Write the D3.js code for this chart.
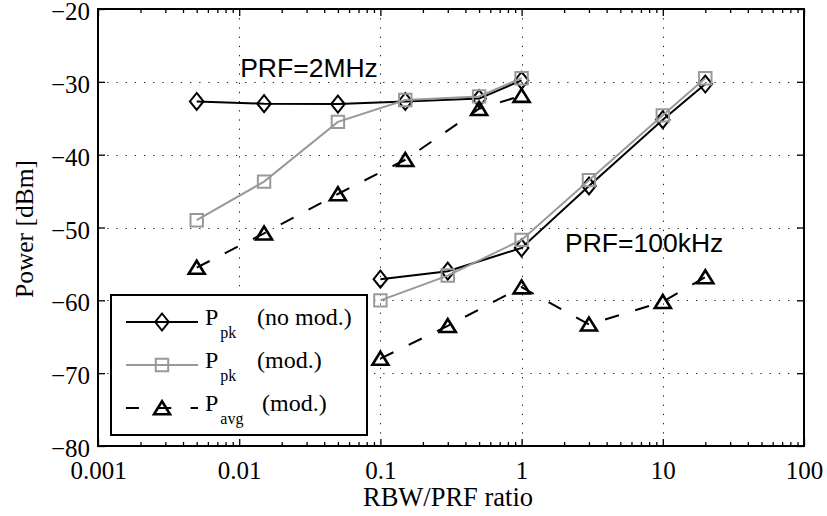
<!DOCTYPE html>
<html>
<head>
<meta charset="utf-8">
<script src="https://cdn.jsdelivr.net/npm/d3@7"></script>
<style>
  html, body { margin: 0; padding: 0; background: #fff; }
  svg { display: block; }
  .serif { font-family: "Liberation Serif", "Times New Roman", Times, serif; }
  .sans { font-family: "Liberation Sans", Arial, Helvetica, sans-serif; }
</style>
</head>
<body>
<svg id="chart" width="827" height="516"></svg>
<script>
// RBW/PRF ratios and measured powers, PRF = 2 MHz
const ratio2M      = [0.005, 0.015, 0.05, 0.15, 0.5, 1];
const pkNoMod2M    = [-32.7, -33.0, -33.05, -32.7, -32.3, -29.8];
const pkMod2M      = [-49.0, -43.7, -35.5, -32.5, -32.0, -29.5];
const avgMod2M     = [-55.5, -50.8, -45.4, -40.7, -33.7, -31.9];

// RBW/PRF ratios and measured powers, PRF = 100 kHz
const ratio100k    = [0.1, 0.3, 1, 3, 10, 20];
const pkNoMod100k  = [-57.1, -56.0, -52.8, -44.3, -35.2, -30.3];
const pkMod100k    = [-60.0, -56.6, -51.7, -43.5, -34.6, -29.5];
const avgMod100k   = [-68.0, -63.5, -58.2, -63.3, -60.2, -56.8];

// Axis ticks
const xTickValues = [0.001, 0.01, 0.1, 1, 10, 100];
const xTickLabels = ["0.001", "0.01", "0.1", "1", "10", "100"];
const yTickValues = [-80, -70, -60, -50, -40, -30, -20];

const seriesNames = ["no mod.", "mod.", "mod."];
const seriesSubs = ["pk", "pk", "avg"];

const svg = d3.select("#chart");
const L = 98, R = 804, T = 9, B = 446;

const x = d3.scaleLog().domain([0.001, 100]).range([L, R]);
const y = d3.scaleLinear().domain([-80, -20]).range([B, T]);

// minor ticks 2..9 in each decade
const minorTicks = [];
for (let e = -3; e < 2; e++) {
  for (let k = 2; k <= 9; k++) minorTicks.push(k * Math.pow(10, e));
}

// dotted grid
const grid = svg.append("g").attr("stroke", "#222").attr("stroke-width", 1)
  .attr("stroke-dasharray", "1.3,7.9");
grid.selectAll("line.gx").data(xTickValues.slice(1, -1)).join("line")
  .attr("x1", d => Math.round(x(d)) + 0.5).attr("x2", d => Math.round(x(d)) + 0.5)
  .attr("y1", T).attr("y2", B);
grid.selectAll("line.gy").data(yTickValues.slice(1, -1)).join("line")
  .attr("x1", L).attr("x2", R)
  .attr("y1", d => Math.round(y(d)) + 0.5).attr("y2", d => Math.round(y(d)) + 0.5);

// axes (ticks pointing inward)
function styleAxis(g) {
  g.select(".domain").remove();
  g.selectAll(".tick line").attr("stroke", "#000").attr("stroke-width", 1.3);
}
const labelIdx = v => xTickValues.indexOf(v);

const xb = svg.append("g").attr("transform", `translate(0,${B})`)
  .call(d3.axisBottom(x).tickValues(xTickValues).tickSize(-7).tickPadding(0)
    .tickFormat(d => xTickLabels[labelIdx(d)]));
styleAxis(xb);
xb.selectAll(".tick text").attr("class", "serif").attr("font-size", 25)
  .attr("fill", "#000").attr("y", 33).attr("dy", 0);

const xbm = svg.append("g").attr("transform", `translate(0,${B})`)
  .call(d3.axisBottom(x).tickValues(minorTicks).tickSize(-4).tickFormat(""));
styleAxis(xbm);

const xt = svg.append("g").attr("transform", `translate(0,${T})`)
  .call(d3.axisTop(x).tickValues(xTickValues).tickSize(-7).tickFormat(""));
styleAxis(xt);
const xtm = svg.append("g").attr("transform", `translate(0,${T})`)
  .call(d3.axisTop(x).tickValues(minorTicks).tickSize(-4).tickFormat(""));
styleAxis(xtm);

const yl = svg.append("g").attr("transform", `translate(${L},0)`)
  .call(d3.axisLeft(y).tickValues(yTickValues).tickSize(-7).tickPadding(8)
    .tickFormat(d3.format("d")));
styleAxis(yl);
yl.selectAll(".tick text").attr("class", "serif").attr("font-size", 25)
  .attr("fill", "#000").attr("dy", "0.42em");

const yr = svg.append("g").attr("transform", `translate(${R},0)`)
  .call(d3.axisRight(y).tickValues(yTickValues).tickSize(-7).tickFormat(""));
styleAxis(yr);

// frame
svg.append("rect").attr("x", L).attr("y", T).attr("width", R - L).attr("height", B - T)
  .attr("fill", "none").attr("stroke", "#000").attr("stroke-width", 2);

// axis titles
svg.append("text").attr("class", "serif").attr("font-size", 26.5)
  .attr("text-anchor", "middle").attr("x", (L + R) / 2 - 3).attr("y", 506)
  .text("RBW/PRF ratio");
svg.append("text").attr("class", "serif").attr("font-size", 25.5)
  .attr("text-anchor", "middle")
  .attr("transform", `translate(33,229) rotate(-90)`)
  .text("Power [dBm]");

// marker shapes
const markers = {
  diamond: "M0,-8.5L6.8,0L0,8.5L-6.8,0Z",
  square: "M-6.2,-6.2H6.2V6.2H-6.2Z",
  triangle: "M0,-6.8L8,6.2L-8,6.2Z"
};

const series = [
  { segs: [[ratio2M, pkNoMod2M], [ratio100k, pkNoMod100k]], color: "#000", dash: null, marker: "diamond", mw: 2 },
  { segs: [[ratio2M, pkMod2M], [ratio100k, pkMod100k]], color: "#999", dash: null, marker: "square", mw: 2 },
  { segs: [[ratio2M, avgMod2M], [ratio100k, avgMod100k]], color: "#000", dash: "14.5,17", marker: "triangle", mw: 2.6 }
];

const line = d3.line().x(d => x(d[0])).y(d => y(d[1]));

series.forEach(s => {
  const g = svg.append("g");
  s.segs.forEach(([xs, ys]) => {
    const pts = xs.map((v, i) => [v, ys[i]]);
    g.append("path").attr("d", line(pts)).attr("fill", "none")
      .attr("stroke", s.color).attr("stroke-width", 2)
      .attr("stroke-dasharray", s.dash);
    g.selectAll(null).data(pts).join("path")
      .attr("d", markers[s.marker])
      .attr("transform", d => `translate(${x(d[0])},${y(d[1])})`)
      .attr("fill", "none").attr("stroke", s.color).attr("stroke-width", s.mw)
      .attr("stroke-linejoin", "miter");
  });
});

// annotations
svg.append("text").attr("class", "sans").attr("font-size", 26.5)
  .attr("x", x(0.01) + 1).attr("y", 77).text("PRF=2MHz");
svg.append("text").attr("class", "sans").attr("font-size", 26.5)
  .attr("x", 565).attr("y", 252).text("PRF=100kHz");

// legend
const lg = svg.append("g");
lg.append("rect").attr("x", 111).attr("y", 295).attr("width", 256).attr("height", 140)
  .attr("fill", "#fff").attr("stroke", "#000").attr("stroke-width", 2);
const rowY = [322, 365, 408];
series.forEach((s, i) => {
  const ry = rowY[i];
  lg.append("line").attr("x1", 126).attr("x2", 198).attr("y1", ry).attr("y2", ry)
    .attr("stroke", s.color).attr("stroke-width", 2)
    .attr("stroke-dasharray", s.dash ? "13,19.3" : null);
  lg.append("path").attr("d", markers[s.marker])
    .attr("transform", `translate(162,${ry})`)
    .attr("fill", "none").attr("stroke", s.color).attr("stroke-width", s.mw);
  const t = lg.append("text").attr("class", "serif").attr("font-size", 24)
    .attr("x", 205).attr("y", ry + 3);
  t.append("tspan").text("P");
  t.append("tspan").attr("font-size", 16).attr("dy", 13).attr("dx", 2).text(seriesSubs[i]);
  t.append("tspan").attr("dy", -13).attr("x", seriesSubs[i] === "avg" ? 262 : 257)
    .text("(" + seriesNames[i] + ")");
});
</script>
</body>
</html>
